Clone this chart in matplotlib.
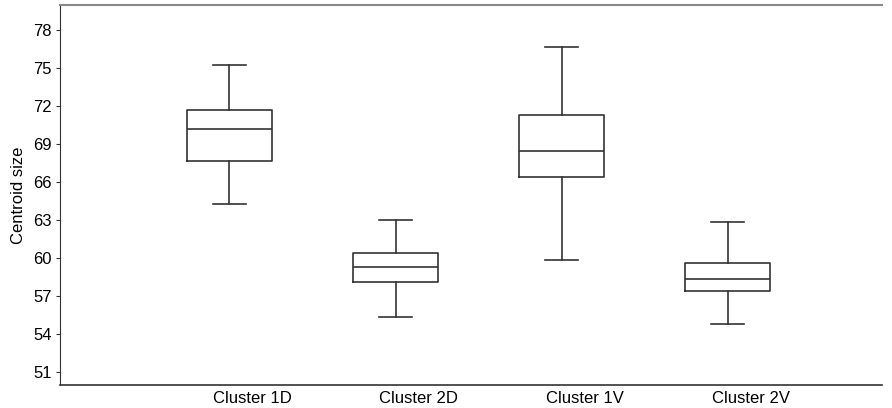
import matplotlib.pyplot as plt

plt.rcParams['font.family'] = ['Liberation Sans', 'DejaVu Sans']

# 各クラスタの箱ひげ図の統計量
clusters = ['Cluster 1D', 'Cluster 2D', 'Cluster 1V', 'Cluster 2V']
whis_lo = [64.3, 55.4, 59.9, 54.8]
q1 = [67.7, 58.1, 66.4, 57.4]
med = [70.2, 59.3, 68.5, 58.4]
q3 = [71.7, 60.4, 71.3, 59.6]
whis_hi = [75.3, 63.0, 76.7, 62.9]

stats = []
for i in range(len(clusters)):
    stats.append(dict(label=clusters[i], whislo=whis_lo[i], q1=q1[i], med=med[i],
                      q3=q3[i], whishi=whis_hi[i], fliers=[]))

fig = plt.figure(figsize=(8.92, 4.08), dpi=100)
ax = fig.add_axes([0.0673, 0.0564, 0.9217, 0.9313])

lc = '#333333'
pos = [1, 2, 3, 4]
ax.bxp(stats, positions=pos, widths=0.51, capwidths=0.2, showfliers=False,
       boxprops=dict(color=lc, lw=1.2),
       medianprops=dict(color=lc, lw=1.2),
       whiskerprops=dict(color=lc, lw=1.2),
       capprops=dict(color=lc, lw=1.2))

ax.set_ylim(50, 80)
ax.set_xlim(-0.02, 4.93)
ax.set_yticks(range(51, 79, 3))
# ラベルは箱より少し右にずれている
ax.set_xticks([p + 0.14 for p in pos])
ax.set_xticklabels(clusters, fontsize=12)
ax.tick_params(axis='x', length=0, pad=4)
ax.tick_params(axis='y', length=3, labelsize=12, color=lc, pad=3)
ax.set_ylabel('Centroid size', fontsize=12, labelpad=5)

ax.spines['right'].set_visible(False)
ax.spines['top'].set_color('#888888')
ax.spines['top'].set_linewidth(1.5)
ax.spines['left'].set_color(lc)
ax.spines['bottom'].set_color(lc)
ax.spines['bottom'].set_linewidth(1.2)

fig.savefig('out.png', dpi=100)
